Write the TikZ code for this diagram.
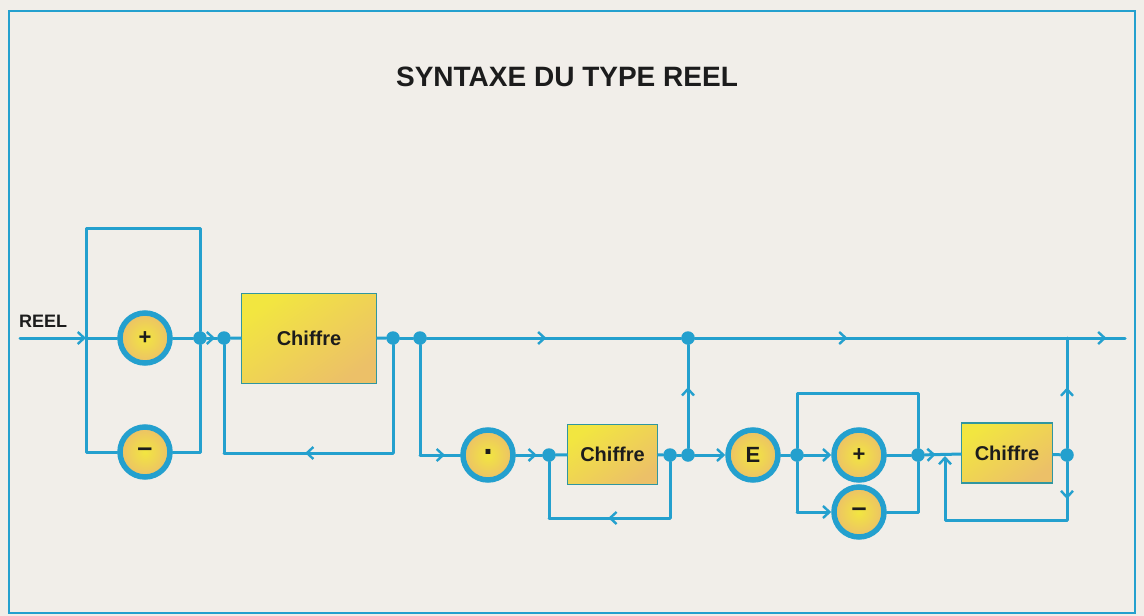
\documentclass[tikz,border=0pt]{standalone}
\usepackage{fontspec}
\setmainfont{Liberation Sans}
\usetikzlibrary{arrows.meta,decorations.markings}
\definecolor{ln}{RGB}{36,160,206}
\definecolor{bg}{RGB}{241,238,233}
\definecolor{yl}{RGB}{242,230,64}
\definecolor{orng}{RGB}{236,192,104}
\definecolor{boxln}{RGB}{48,150,160}
\definecolor{txt}{RGB}{28,28,28}
\tikzset{
  tipA/.tip={Straight Barb[length=6.5pt,width=12pt,line width=2.4pt]},
  wire/.style={draw=ln,line width=3pt,line cap=round,line join=round},
  marrow/.style={postaction={decorate},decoration={markings,mark=at position #1 with {\arrow{tipA}}}},
  circ/.style={circle,draw=ln,line width=5.5pt,minimum size=50pt,inner sep=0pt,
    inner color=yl,outer color=orng,text=txt,font=\bfseries\fontsize{22}{22}\selectfont},
  chbox/.style={rectangle,draw=boxln,line width=1.6pt,inner sep=0pt,
    top color=yl,bottom color=orng,shading angle=35,text=txt,font=\bfseries\fontsize{20}{20}\selectfont},
  jdot/.style={circle,fill=ln,minimum size=13.5pt,inner sep=0pt},
  lbl/.style={text=txt,font=\bfseries\fontsize{18}{18}\selectfont},
  minus/.style={font=\bfseries\fontsize{27}{27}\selectfont},
  period/.style={font=\bfseries\fontsize{34}{34}\selectfont}
}
\begin{document}
\begin{tikzpicture}[x=1pt,y=-1pt]
\useasboundingbox (0,0) rectangle (1144,616);
\fill[bg] (0,0) rectangle (1144,616);
\draw[ln,line width=2.8pt] (9,11) rectangle (1135,613);

\node[text=txt,font=\bfseries\fontsize{28}{28}\selectfont] (title) at (567,77) {SYNTAXE DU TYPE REEL};
\node[lbl,anchor=south west,inner sep=0pt] (reel) at (19,328) {REEL};

% first sign
\coordinate (in0) at (20,338);
\coordinate (jA) at (86,338);
\node[circ] (pl) at (145,338) {+};
\node[circ,minus] (mi) at (145,452) {–};
\node[jdot] (d1) at (200,338) {};
\node[jdot] (d2) at (224,338) {};
\coordinate (t1) at (86,228);
\coordinate (t2) at (200,228);
\coordinate (b1) at (86,452);
\coordinate (b2) at (200,452);

\draw[wire,-tipA] (in0) -- (jA);
\draw[wire] (jA) -- (pl);
\draw[wire] (pl) -- (d1);
\draw[wire] (jA) -- (t1) -- (t2) -- (d1);
\draw[wire] (jA) -- (b1) -- (mi);
\draw[wire] (mi) -- (b2) -- (d1);
\draw[wire,marrow=0.8] (d1) -- (d2);

% integer part
\node[chbox,minimum width=135pt,minimum height=90pt] (c1) at (309,338.5) {Chiffre};
\node[jdot] (d3) at (393,338) {};
\node[jdot] (d4) at (420,338) {};
\draw[wire] (d2) -- (c1);
\draw[wire] (c1) -- (d3);
\draw[wire] (d3) -- (d4);
\coordinate (la) at (393,453);
\coordinate (lb) at (224,453);
\draw[wire] (d3) -- (la);
\draw[wire,marrow=0.52] (la) -- (lb);
\draw[wire] (lb) -- (d2);

% fraction part
\coordinate (lc) at (420,455);
\node[circ,period] (pt) at (488,455) {\raisebox{0.2em}{.}};
\node[jdot] (d5) at (549,455) {};
\node[chbox,minimum width=90pt,minimum height=60pt] (c2) at (612.5,454.5) {Chiffre};
\node[jdot] (d6) at (670,455) {};
\node[jdot] (d7) at (688,455) {};
\node[jdot] (d8) at (688,338) {};
\draw[wire] (d4) -- (lc);
\draw[wire,marrow=0.62] (lc) -- (pt);
\draw[wire,marrow=0.8] (pt) -- (d5);
\draw[wire] (d5) -- (c2);
\draw[wire] (c2) -- (d6);
\draw[wire] (d6) -- (d7);
\coordinate (ld) at (670,518);
\coordinate (le) at (549,518);
\draw[wire] (d6) -- (ld);
\draw[wire,marrow=0.51] (ld) -- (le);
\draw[wire] (le) -- (d5);
\draw[wire,marrow=0.59] (d7) -- (d8);

% main line
\coordinate (j2) at (1067,338);
\coordinate (out) at (1125,338);
\draw[wire,marrow=0.47] (d4) -- (d8);
\draw[wire,marrow=0.41] (d8) -- (j2);
\draw[wire,marrow=0.68] (j2) -- (out);

% exponent
\node[circ] (E) at (753,455) {E};
\node[jdot] (d9) at (797,455) {};
\node[circ] (p2) at (859,455) {+};
\node[circ,minus] (m2) at (859,512) {–};
\node[jdot] (d10) at (918,455) {};
\node[chbox,minimum width=91pt,minimum height=60pt] (c3) at (1007,453) {Chiffre};
\node[jdot] (d11) at (1067,455) {};
\draw[wire,-tipA] (d7) -- (E);
\draw[wire] (E) -- (d9);
\draw[wire,-tipA] (d9) -- (p2);
\draw[wire] (p2) -- (d10);
\coordinate (u1) at (797,393);
\coordinate (u2) at (918,393);
\coordinate (w1) at (797,512);
\coordinate (w2) at (918,512);
\draw[wire] (d9) -- (u1) -- (u2) -- (d10);
\draw[wire] (d9) -- (w1);
\draw[wire,-tipA] (w1) -- (m2);
\draw[wire] (m2) -- (w2) -- (d10);
\draw[wire,marrow=0.3] (d10) -- (c3);
\draw[wire] (c3) -- (d11);
\draw[wire,marrow=0.55] (d11) -- (j2);
\coordinate (lf) at (1067,520);
\coordinate (lg) at (945,520);
\coordinate (lh) at (945,456);
\draw[wire,marrow=0.64] (d11) -- (lf);
\draw[wire,-tipA] (lf) -- (lg) -- (lh);
\end{tikzpicture}
\end{document}
